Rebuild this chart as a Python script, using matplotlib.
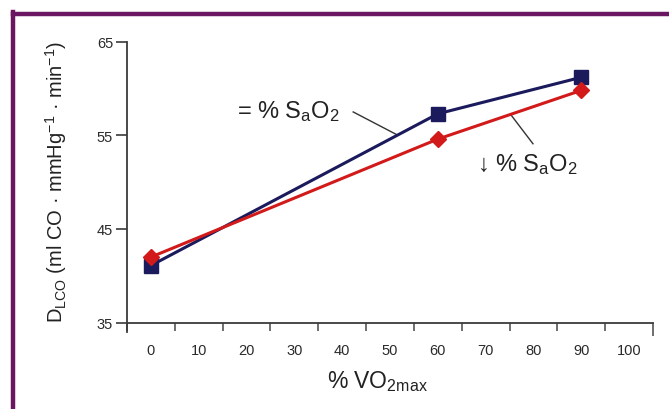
import matplotlib
matplotlib.use("Agg")
import matplotlib.pyplot as plt
from matplotlib.lines import Line2D

plt.rcParams["font.family"] = ["Liberation Sans", "DejaVu Sans"]
plt.rcParams["mathtext.fontset"] = "custom"
plt.rcParams["mathtext.rm"] = "Liberation Sans"
plt.rcParams["mathtext.it"] = "Liberation Sans:italic"

# Exercise intensity (% VO2max) and lung diffusing capacity for CO
intensity = [0, 60, 90]
dlco_normal_sat = [41.1, 57.3, 61.2]     # = % SaO2
dlco_reduced_sat = [42.0, 54.6, 59.8]    # ↓ % SaO2

x_ticks = [0, 10, 20, 30, 40, 50, 60, 70, 80, 90, 100]
y_ticks = [35, 45, 55, 65]

NAVY = "#1b1a5c"
RED = "#d21a1a"
AXIS = "#3a3a3a"

fig = plt.figure(figsize=(6.69, 4.10), dpi=100)
W, H = 669, 410
left, right, top, bottom = 127, 653, 42.7, 333
ax = fig.add_axes([left / W, 1 - bottom / H, (right - left) / W, (bottom - top) / H])

ax.set_xlim(-5, 105)
ax.set_ylim(34, 65)

ax.plot(intensity, dlco_normal_sat, color=NAVY, lw=2.2, marker="s", ms=10,
        mfc=NAVY, mec=NAVY, zorder=3)
ax.plot(intensity, dlco_reduced_sat, color=RED, lw=2.2, marker="D", ms=8.5,
        mfc=RED, mec=RED, zorder=4)

# Axes styling
for s in ("top", "right"):
    ax.spines[s].set_visible(False)
ax.spines["bottom"].set_position(("data", 35))
for s in ("left", "bottom"):
    ax.spines[s].set_color(AXIS)
    ax.spines[s].set_linewidth(1.3)

ax.set_yticks(y_ticks)
ax.tick_params(axis="y", direction="out", length=8, width=1.2, color=AXIS,
               labelsize=10.5, labelcolor="#2a2a2a", pad=2)

# Labels sit between the tick marks
ax.set_xticks(x_ticks)
ax.set_xticks([t - 5 for t in x_ticks] + [105], minor=True)
ax.tick_params(axis="x", which="major", length=0, labelsize=10.5,
               labelcolor="#2a2a2a", pad=15)
ax.tick_params(axis="x", which="minor", direction="out", length=6, width=1.2,
               color="#555555")
ax.xaxis.get_minor_ticks()[-1].tick1line.set_markersize(9)

ax.set_xlabel(r"% VO$_{\mathrm{2max}}$", fontsize=16.5, color="#222222", va="center")
ax.xaxis.set_label_coords(0.476, -0.168)
ax.set_ylabel(r"D$_{\mathrm{LCO}}$ (ml CO · mmHg$^{\mathrm{-1}}$ · min$^{\mathrm{-1}}$)",
              fontsize=14.5, color="#222222", va="center")
ax.yaxis.set_label_coords(-0.135, 0.52)

# Series annotations with leader lines
ax.text(18, 57.6, r"= % S$_{\mathrm{a}}$O$_{\mathrm{2}}$", fontsize=17,
        color="#222222", ha="left", va="center")
ax.plot([42.3, 51.5], [57.5, 55.05], color="#333333", lw=1.0)
ax.text(68.2, 52.0, r"↓ % S$_{\mathrm{a}}$O$_{\mathrm{2}}$", fontsize=17,
        color="#222222", ha="left", va="center")
ax.plot([75.2, 79.9], [57.25, 54.1], color="#333333", lw=1.0)

# Panel frame (left and top edges)
PURPLE = "#6a1660"
fig.add_artist(Line2D([12.5 / W, 12.5 / W], [0, 1 - 13 / H], transform=fig.transFigure,
                      color=PURPLE, lw=3.2, solid_capstyle="projecting"))
fig.add_artist(Line2D([12.5 / W, 1], [1 - 14.5 / H, 1 - 14.5 / H], transform=fig.transFigure,
                      color=PURPLE, lw=3.2, solid_capstyle="projecting"))

fig.savefig("out.png", dpi=100)
